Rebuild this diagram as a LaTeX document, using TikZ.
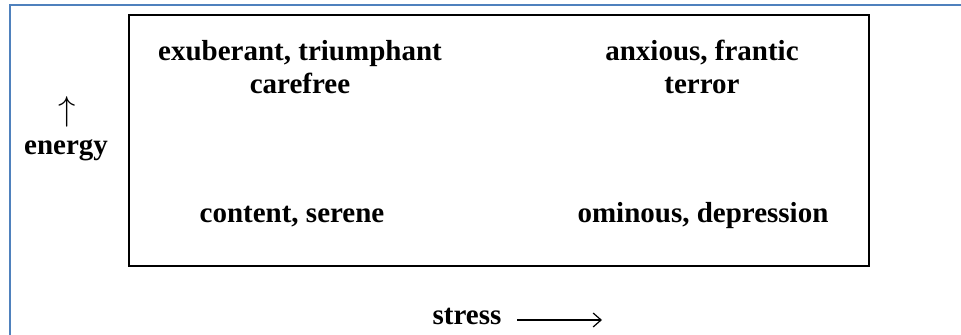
\documentclass[tikz,border=0pt]{standalone}
\usepackage{fontspec}
\setmainfont{Liberation Serif}
\usetikzlibrary{arrows.meta}
\definecolor{frameblue}{HTML}{4F81BD}
\begin{document}
\begin{tikzpicture}[x=0.5pt,y=-0.5pt,
  lbl/.style={font=\bfseries\fontsize{14.5}{16.5}\selectfont, align=center, anchor=base, inner sep=0pt},
  box/.style={draw=black, line width=1pt},
  outer/.style={draw=frameblue, line width=1.2pt}]
  \useasboundingbox (0,0) rectangle (961,335);
  % outer frame (top and left edges)
  \draw[outer] (10,340) -- (10,5) -- (970,5);
  % quadrant box
  \draw[box] (129,15) rectangle (869,266);
  % quadrant labels (base anchor sits on the last line)
  \node[lbl] (hiLow) at (300,94) {exuberant, triumphant\\carefree};
  \node[lbl] (hiHigh) at (702,94) {anxious, frantic\\terror};
  \node[lbl] (loLow) at (292,223) {content, serene};
  \node[lbl] (loHigh) at (703,223) {ominous, depression};
  % axis labels
  \node[lbl, font=\fontsize{16}{16}\selectfont] (up) at (67,121) {$\uparrow$};
  \node[lbl] (energy) at (66,155) {energy};
  \node[lbl] (stress) at (467,325) {stress};
  \coordinate (sA) at (517,320);
  \coordinate (sB) at (602,320);
  \draw[line width=0.6pt, -{Straight Barb[length=4pt,width=7pt]}] (sA) -- (sB);
\end{tikzpicture}
\end{document}
